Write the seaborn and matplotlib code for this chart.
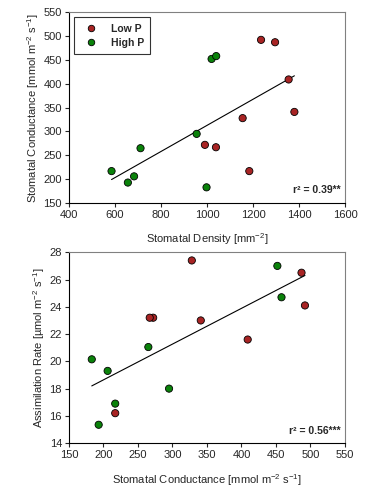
import pandas as pd
import seaborn as sns
import matplotlib.pyplot as plt
import numpy as np

# values
low_density = [1235, 1296, 1355, 1380, 1155, 991, 1039, 1184]
low_conduct = [492, 487, 409, 341, 328, 272, 267, 217]
low_assim = [24.1, 26.5, 21.6, 23.0, 27.4, 23.2, 23.2, 16.2]

high_density = [1020, 1040, 955, 711, 585, 683, 656, 998]
high_conduct = [452, 458, 295, 265, 217, 206, 193, 183]
high_assim = [27.0, 24.7, 18.0, 21.05, 16.9, 19.3, 15.35, 20.15]

groups = ['Low P', 'High P']
r2_labels = ['r² = 0.39**', 'r² = 0.56***']

df = pd.DataFrame({
    'density': low_density + high_density,
    'conduct': low_conduct + high_conduct,
    'assim': low_assim + high_assim,
    'group': ['Low P'] * len(low_density) + ['High P'] * len(high_density),
})

sns.set_style('ticks')
plt.rcParams['font.family'] = ['Liberation Sans', 'DejaVu Sans']
plt.rcParams['mathtext.fontset'] = 'custom'
plt.rcParams['mathtext.rm'] = 'Liberation Sans'
plt.rcParams['mathtext.it'] = 'Liberation Sans'
plt.rcParams['mathtext.default'] = 'regular'

palette = {'Low P': '#a82424', 'High P': '#0a820a'}

fig = plt.figure(figsize=(3.67, 4.87), dpi=100)
ax1 = fig.add_axes([0.188, 0.583, 0.752, 0.392])
ax2 = fig.add_axes([0.188, 0.090, 0.752, 0.392])

fs = 8


def panel(ax, xcol, ycol, legend):
    sns.regplot(data=df, x=xcol, y=ycol, ax=ax, scatter=False, ci=None,
                line_kws={'color': 'black', 'lw': 0.8})
    sns.scatterplot(data=df, x=xcol, y=ycol, hue='group', hue_order=groups,
                    palette=palette, s=27, edgecolor='black', linewidth=0.6,
                    ax=ax, legend=legend, zorder=3)
    for side in ['left', 'bottom']:
        ax.spines[side].set_color('black')
        ax.spines[side].set_linewidth(0.8)
    for side in ['top', 'right']:
        ax.spines[side].set_color('#808080')
        ax.spines[side].set_linewidth(0.8)
    ax.tick_params(labelsize=fs, length=3, width=0.8, pad=2)


panel(ax1, 'density', 'conduct', True)
ax1.set_xlim(400, 1600)
ax1.set_ylim(150, 550)
ax1.set_xticks(np.arange(400, 1601, 200))
ax1.set_yticks(np.arange(150, 551, 50))
ax1.set_xlabel('Stomatal Density [mm$^{-2}$]', fontsize=fs, labelpad=8)
ax1.set_ylabel('Stomatal Conductance [mmol m$^{-2}$ s$^{-1}$]', fontsize=fs, labelpad=2)
leg = ax1.legend(loc='upper left', frameon=True, fancybox=False, fontsize=7.5,
                 borderpad=0.6, handletextpad=0.9, labelspacing=0.4,
                 borderaxespad=0.5, markerscale=0.9)
leg.get_frame().set_edgecolor('black')
leg.get_frame().set_linewidth(0.8)
for t in leg.get_texts():
    t.set_fontweight('bold')
ax1.text(0.985, 0.04, r2_labels[0], transform=ax1.transAxes, ha='right',
         va='bottom', fontsize=7.5, fontweight='bold')

panel(ax2, 'conduct', 'assim', False)
ax2.set_xlim(150, 550)
ax2.set_ylim(14, 28)
ax2.set_xticks(np.arange(150, 551, 50))
ax2.set_yticks(np.arange(14, 29, 2))
ax2.set_xlabel('Stomatal Conductance [mmol m$^{-2}$ s$^{-1}$]', fontsize=fs, labelpad=9)
ax2.set_ylabel('Assimilation Rate [µmol m$^{-2}$ s$^{-1}$]', fontsize=fs, labelpad=2)
ax2.text(0.985, 0.04, r2_labels[1], transform=ax2.transAxes, ha='right',
         va='bottom', fontsize=7.5, fontweight='bold')

fig.savefig('out.png', dpi=100)
